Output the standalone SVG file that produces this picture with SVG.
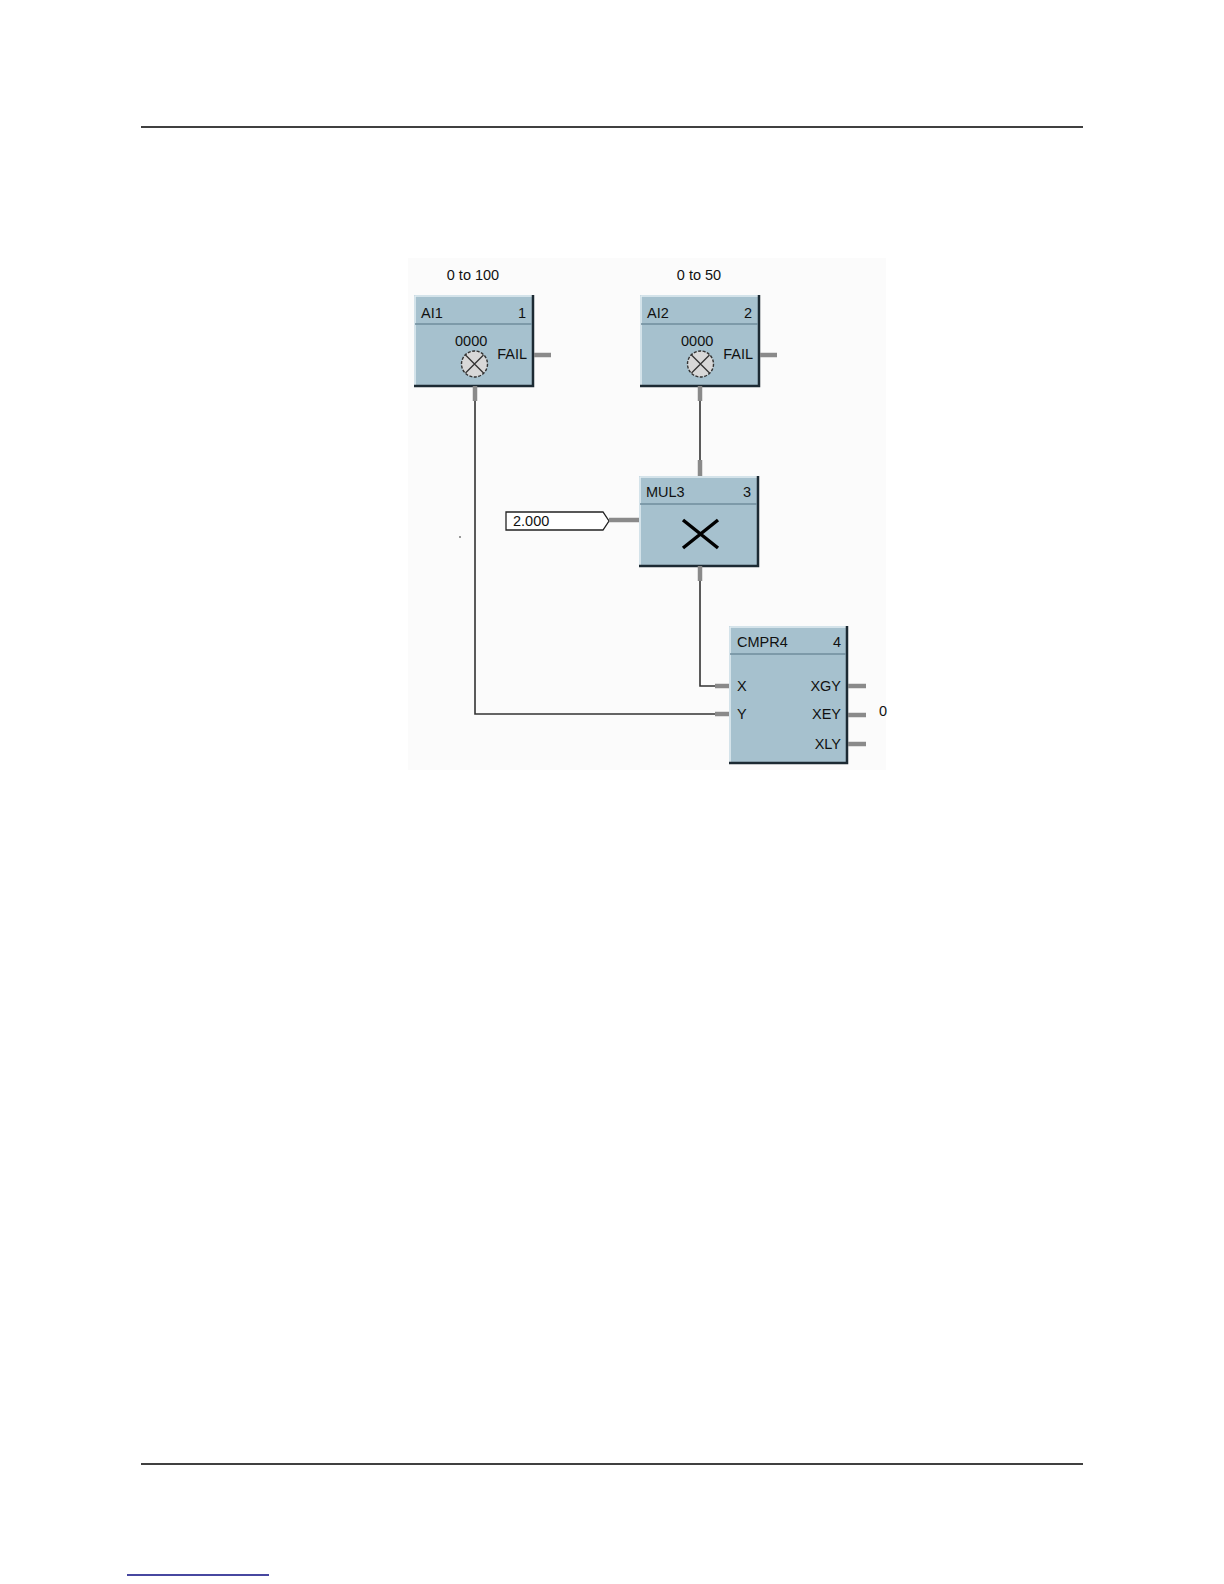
<svg xmlns="http://www.w3.org/2000/svg" width="1224" height="1584" viewBox="0 0 1224 1584">
<style>
.t{font-family:"Liberation Sans",Arial,sans-serif;font-size:14.5px;fill:#111}
.blk{fill:#a6c1ce;stroke:none}
.sh{fill:none;stroke:#1c2a33;stroke-width:2.5}
.hl{fill:none;stroke:#e4eef3;stroke-width:1.5}
.hd{stroke:#6f8d9c;stroke-width:1.5}
.stub{stroke:#8a8a8a;stroke-width:4.5;fill:none}
.wire{stroke:#333;stroke-width:1.6;fill:none}
.lamp{fill:#d8d8d8;stroke:#333;stroke-width:1.4;stroke-dasharray:3 1.5}
</style>
<rect width="1224" height="1584" fill="#fff"/>
<line x1="141" y1="127" x2="1083" y2="127" stroke="#000" stroke-width="1.3"/>
<line x1="141" y1="1464" x2="1083" y2="1464" stroke="#000" stroke-width="1.3"/>
<line x1="127" y1="1575" x2="269" y2="1575" stroke="#0a0a80" stroke-width="1.6"/>
<rect x="408" y="258" width="478" height="512" fill="#fbfbfb"/>
<rect x="459" y="536" width="2" height="2" fill="#999"/>

<g id="connectors">
<polyline class="wire" points="475,400 475,714 715,714"/>
<line class="wire" x1="700" y1="400" x2="700" y2="460"/>
<polyline class="wire" points="700,580 700,686 715,686"/>
</g>

<g id="AI1">
<text class="t" x="473" y="280" text-anchor="middle">0 to 100</text>
<rect class="blk" x="414" y="295" width="119" height="90"/>
<polyline class="hl" points="415,385 415,296 533,296"/>
<polyline class="sh" points="533,295 533,386 414,386"/>
<line class="hd" x1="415" y1="324" x2="532" y2="324"/>
<text class="t" x="421" y="318">AI1</text>
<text class="t" x="526" y="318" text-anchor="end">1</text>
<text class="t" x="455" y="346">0000</text>
<circle class="lamp" cx="474.5" cy="364" r="13"/>
<path d="M465.5,355 L483.5,373 M483.5,355 L465.5,373" stroke="#333" stroke-width="1.3"/>
<text class="t" x="527" y="359" text-anchor="end">FAIL</text>
<line class="stub" x1="534" y1="355" x2="551" y2="355"/>
<line class="stub" x1="475" y1="386" x2="475" y2="401"/>
</g>

<g id="AI2">
<text class="t" x="699" y="280" text-anchor="middle">0 to 50</text>
<rect class="blk" x="640" y="295" width="119" height="90"/>
<polyline class="hl" points="641,385 641,296 759,296"/>
<polyline class="sh" points="759,295 759,386 640,386"/>
<line class="hd" x1="641" y1="324" x2="758" y2="324"/>
<text class="t" x="647" y="318">AI2</text>
<text class="t" x="752" y="318" text-anchor="end">2</text>
<text class="t" x="681" y="346">0000</text>
<circle class="lamp" cx="700.5" cy="364" r="13"/>
<path d="M691.5,355 L709.5,373 M709.5,355 L691.5,373" stroke="#333" stroke-width="1.3"/>
<text class="t" x="753" y="359" text-anchor="end">FAIL</text>
<line class="stub" x1="760" y1="355" x2="777" y2="355"/>
<line class="stub" x1="700" y1="386" x2="700" y2="401"/>
</g>

<g id="CONST">
<path d="M506,512 L603,512 L609,521 L603,530 L506,530 Z" fill="#fff" stroke="#222" stroke-width="1.3"/>
<text class="t" x="513" y="526">2.000</text>
<line class="stub" x1="609" y1="520" x2="640" y2="520"/>
</g>

<g id="MUL3">
<rect class="blk" x="639" y="476" width="119" height="89"/>
<polyline class="hl" points="640,565 640,477 758,477"/>
<polyline class="sh" points="758,476 758,566 639,566"/>
<line class="hd" x1="640" y1="504" x2="757" y2="504"/>
<text class="t" x="646" y="497">MUL3</text>
<text class="t" x="751" y="497" text-anchor="end">3</text>
<path d="M683,520 L718,548 M718,520 L683,548" stroke="#000" stroke-width="3.5"/>
<line class="stub" x1="700" y1="460" x2="700" y2="476"/>
<line class="stub" x1="700" y1="566" x2="700" y2="581"/>
</g>

<g id="CMPR4">
<rect class="blk" x="729" y="626" width="118" height="136"/>
<polyline class="hl" points="730,762 730,627 847,627"/>
<polyline class="sh" points="847,626 847,763 729,763"/>
<line class="hd" x1="730" y1="654" x2="846" y2="654"/>
<text class="t" x="737" y="647">CMPR4</text>
<text class="t" x="841" y="647" text-anchor="end">4</text>
<text class="t" x="737" y="691">X</text>
<text class="t" x="737" y="719">Y</text>
<text class="t" x="841" y="691" text-anchor="end">XGY</text>
<text class="t" x="841" y="719" text-anchor="end">XEY</text>
<text class="t" x="841" y="749" text-anchor="end">XLY</text>
<line class="stub" x1="715" y1="686" x2="729" y2="686"/>
<line class="stub" x1="715" y1="714" x2="729" y2="714"/>
<line class="stub" x1="848" y1="686" x2="866" y2="686"/>
<line class="stub" x1="848" y1="715" x2="866" y2="715"/>
<line class="stub" x1="848" y1="744" x2="866" y2="744"/>
<text class="t" x="879" y="716">0</text>
</g>
</svg>
